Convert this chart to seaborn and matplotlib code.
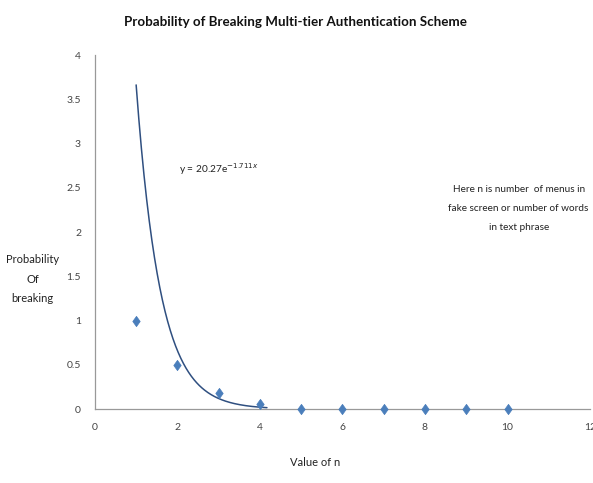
import numpy as np
import matplotlib
matplotlib.use("Agg")
import matplotlib.pyplot as plt
from matplotlib.path import Path
import seaborn as sns

# Number of menus / words in the phrase, and the observed breaking probability
n_values = [1, 2, 3, 4, 5, 6, 7, 8, 9, 10]
probability = [1.0, 0.5, 0.18, 0.06, 0.0, 0.0, 0.0, 0.0, 0.0, 0.0]

# Exponential trendline y = a * e^(b x)
trend_a = 20.27
trend_b = -1.711
trend_range = [1.0, 4.17]

x_ticks = [0, 2, 4, 6, 8, 10, 12]
y_ticks = [0, 0.5, 1, 1.5, 2, 2.5, 3, 3.5, 4]

sns.set_theme(style="white")
plt.rcParams["font.family"] = ["Lato", "DejaVu Sans"]

fig = plt.figure(figsize=(5.93, 4.83), dpi=100)
ax = fig.add_axes([0.160, 0.153, 0.835, 0.733])

# slightly tall diamond marker
diamond = Path([(0, 1), (0.72, 0), (0, -1), (-0.72, 0), (0, 1)],
               [Path.MOVETO, Path.LINETO, Path.LINETO, Path.LINETO, Path.CLOSEPOLY])

df_points = {"n": n_values, "p": probability}
sns.scatterplot(x="n", y="p", data=df_points, ax=ax, marker=diamond, s=55,
                color="#4A7EBB", edgecolor="#4A7EBB", linewidth=0.5, zorder=3,
                clip_on=False)

xt = np.linspace(trend_range[0], trend_range[1], 200)
yt = trend_a * np.exp(trend_b * xt)
sns.lineplot(x=xt, y=yt, ax=ax, color="#2F4F80", linewidth=1.1, zorder=2)

ax.set_xlim(0, 12)
ax.set_ylim(0, 4)
ax.set_xticks(x_ticks)
ax.set_yticks(y_ticks)
ax.set_xticklabels([str(t) for t in x_ticks])
ax.set_yticklabels([f"{t:g}" for t in y_ticks])
ax.tick_params(axis="both", labelsize=7.5, colors="#444444", length=4,
               width=0.8, color="#999999", direction="out")
ax.tick_params(axis="x", pad=6)
ax.tick_params(axis="y", pad=6)
for side in ("top", "right"):
    ax.spines[side].set_visible(False)
for side in ("left", "bottom"):
    ax.spines[side].set_color("#999999")
    ax.spines[side].set_linewidth(0.9)
ax.set_xlabel("")
ax.set_ylabel("")

fig.text(0.499, 0.954, "Probability of Breaking Multi-tier Authentication Scheme",
         ha="center", va="center", fontsize=9.6, fontweight="bold", color="#111111")
fig.text(0.531, 0.043, "Value of n", ha="center", va="center",
         fontsize=8, color="#222222")
fig.text(0.055, 0.422, "Probability\nOf\nbreaking", ha="center", va="center",
         fontsize=8, color="#222222", linespacing=1.95)
ax.text(2.05, 2.71, r"y = 20.27e$^{-1.711x}$", ha="left", va="center",
        fontsize=7.3, color="#222222")
ax.text(10.27, 2.27, "Here n is number  of menus in\nfake screen or number of words\nin text phrase",
        ha="center", va="center", fontsize=7.2, color="#222222", linespacing=2.45)

fig.savefig("out.png", dpi=100, facecolor="white")
